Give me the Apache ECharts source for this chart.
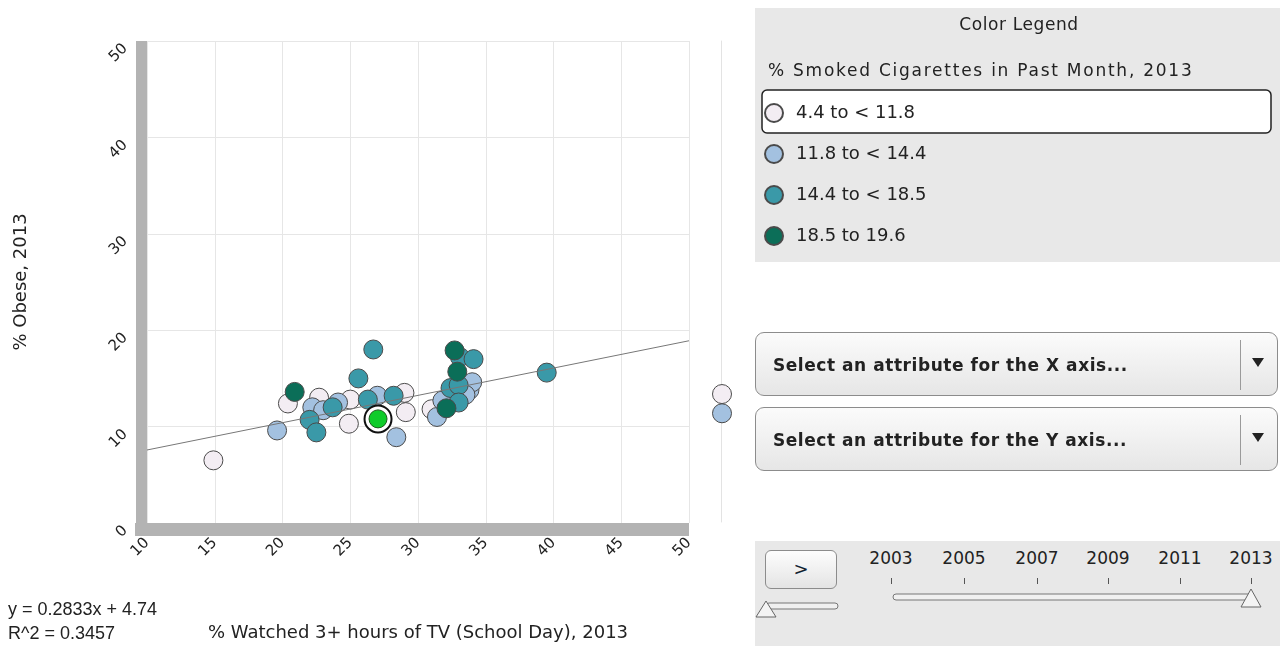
<!DOCTYPE html>
<html>
<head>
<meta charset="utf-8">
<script src="https://cdn.jsdelivr.net/npm/echarts@6/dist/echarts.min.js"></script>
<style>
  html, body { margin:0; padding:0; background:#fff; }
  #wrap { position:relative; width:1280px; height:646px; overflow:hidden; font-family:"DejaVu Sans", sans-serif; }
  #chart { position:absolute; left:0; top:0; width:1280px; height:646px; }
  .lt { position:absolute; font-size:17px; color:#222; white-space:nowrap; z-index:2; }
  .dd { position:absolute; left:755px; width:523px; height:64px; border:1px solid #8c8c8c; border-radius:9px;
        background:linear-gradient(#fbfbfb,#e6e6e6); box-sizing:border-box; }
  .dd .t { position:absolute; left:17px; top:22px; font-weight:bold; font-size:17px; color:#222; letter-spacing:0.55px; }
  .dd .sep { position:absolute; left:484px; top:7px; width:1px; height:50px; background:#9a9a9a; }
  .dd .arr { position:absolute; left:496px; top:25px; width:0; height:0; border-left:6px solid transparent; border-right:6px solid transparent; border-top:9px solid #222; }
  #slider { position:absolute; left:755px; top:541px; width:525px; height:105px; background:#e8e8e8; }
  #btn { position:absolute; left:10px; top:9px; width:72px; height:39px; border:1px solid #8c8c8c; border-radius:6px; box-sizing:border-box;
         background:linear-gradient(#fdfdfd,#e4e4e4); text-align:center; font-size:18px; line-height:36px; color:#123; }
  .yr { position:absolute; top:7px; font-size:17px; color:#222; transform:translateX(-50%); }
  .tk { position:absolute; top:37px; width:1px; height:6px; background:#555; }
</style>
</head>
<body>
<div id="wrap">
  <div id="chart"></div>
  <div class="lt" style="top:14px;text-align:center;width:528px;left:755px;letter-spacing:0.6px">Color Legend</div>
  <div class="lt" style="left:768px;top:60px;letter-spacing:1.75px">% Smoked Cigarettes in Past Month, 2013</div>
  <div class="dd" style="top:332px"><div class="t">Select an attribute for the X axis...</div><div class="sep"></div><div class="arr"></div></div>
  <div class="dd" style="top:407px"><div class="t">Select an attribute for the Y axis...</div><div class="sep"></div><div class="arr"></div></div>
  <div id="slider">
    <div id="btn">&gt;</div>
    <svg width="525" height="105" style="position:absolute;left:0;top:0">
      <rect x="11" y="62" width="72" height="6" rx="3" fill="#f0f0f0" stroke="#777" stroke-width="1"/>
      <polygon points="11,60 1,76 21,76" fill="#f4f4f4" stroke="#666" stroke-width="1"/>
      <rect x="138" y="53" width="358" height="6" rx="3" fill="#f0f0f0" stroke="#777" stroke-width="1"/>
      <polygon points="496,48 486,66 506,66" fill="#f4f4f4" stroke="#666" stroke-width="1"/>
    </svg>
  </div>
</div>
<script>
// ---- data ----
const classNames = ['4.4 to < 11.8', '11.8 to < 14.4', '14.4 to < 18.5', '18.5 to 19.6'];
const classColors = ['#f3edf3', '#a3c1e0', '#3a99a8', '#0b6e58'];

const tvClass1 = [14.9, 20.4, 22.7, 25.0, 24.9, 29.0, 29.1, 31.0];
const obeseClass1 = [6.5, 12.4, 13.0, 12.8, 10.3, 13.5, 11.5, 11.8];

const tvClass2 = [19.6, 22.2, 23.0, 24.1, 27.0, 28.4, 31.4, 31.8, 33.8, 34.0, 33.5];
const obeseClass2 = [9.6, 12.0, 11.7, 12.5, 13.2, 8.9, 11.0, 12.7, 13.8, 14.6, 13.3];

const tvClass3 = [22.0, 22.5, 23.7, 25.6, 26.7, 26.3, 28.2, 33.1, 34.1, 32.4, 33.0, 33.0, 39.5];
const obeseClass3 = [10.7, 9.4, 12.0, 15.0, 18.0, 12.8, 13.2, 17.2, 17.0, 14.0, 14.3, 12.5, 15.6];

const tvClass4 = [20.9, 32.7, 32.9, 32.1];
const obeseClass4 = [13.6, 17.9, 15.7, 11.9];

const tvSelected = [27.05];
const obeseSelected = [10.8];

// states with no TV value (drawn in the side strip)
const obeseNoX1 = [13.3];
const obeseNoX2 = [11.3];

const regSlope = 0.2833;
const regIntercept = 4.74;
const regR2 = 0.3457;
const xMin = 10, xMax = 50;

const years = [2003, 2005, 2007, 2009, 2011, 2013];

// ---- slider year labels ----
const slider = document.getElementById('slider');
const yearX = [136, 209, 282, 353, 425, 496];
years.forEach((y, i) => {
  const d = document.createElement('div'); d.className = 'yr'; d.style.left = yearX[i] + 'px'; d.textContent = y; slider.appendChild(d);
  const t = document.createElement('div'); t.className = 'tk'; t.style.left = yearX[i] + 'px'; slider.appendChild(t);
});

// ---- chart ----
const zip = (a, b) => a.map((v, i) => [v, b[i]]);
const tvArr = [tvClass1, tvClass2, tvClass3, tvClass4];
const obArr = [obeseClass1, obeseClass2, obeseClass3, obeseClass4];

const chart = echarts.init(document.getElementById('chart'));
const font = 'DejaVu Sans';

const series = [];
classNames.forEach((n, i) => {
  series.push({
    name: n, type: 'scatter', xAxisIndex: 0, yAxisIndex: 0,
    data: zip(tvArr[i], obArr[i]), symbolSize: 19,
    itemStyle: { color: classColors[i], borderColor: '#4a4a4a', borderWidth: 1, opacity: 1 },
    z: 3 + i
  });
});
series.push({
  name: 'noX1', type: 'scatter', xAxisIndex: 1, yAxisIndex: 1,
  data: obeseNoX1.map(v => [0.5, v]), symbolSize: 19,
  itemStyle: { color: classColors[0], borderColor: '#4a4a4a', borderWidth: 1, opacity: 1 }
});
series.push({
  name: 'noX2', type: 'scatter', xAxisIndex: 1, yAxisIndex: 1,
  data: obeseNoX2.map(v => [0.5, v]), symbolSize: 19,
  itemStyle: { color: classColors[1], borderColor: '#4a4a4a', borderWidth: 1, opacity: 1 }
});
series.push({
  name: 'regression', type: 'line', xAxisIndex: 0, yAxisIndex: 0,
  data: [[xMin, regSlope * xMin + regIntercept], [xMax, regSlope * xMax + regIntercept]],
  symbol: 'none', lineStyle: { color: '#777', width: 1 }, z: 8, silent: true
});
series.push({
  name: 'selRing', type: 'scatter', xAxisIndex: 0, yAxisIndex: 0,
  data: zip(tvSelected, obeseSelected), symbolSize: 27,
  itemStyle: { color: '#ffffff', borderColor: '#111', borderWidth: 2, opacity: 1 }, z: 9
});
series.push({
  name: 'selected', type: 'scatter', xAxisIndex: 0, yAxisIndex: 0,
  data: zip(tvSelected, obeseSelected), symbolSize: 18,
  itemStyle: { color: '#0fcc2a', borderColor: '#1a5a1a', borderWidth: 1, opacity: 1 }, z: 10
});

chart.setOption({
  animation: false,
  textStyle: { fontFamily: font },
  grid: [
    { left: 147, right: 591, top: 41, bottom: 123, outerBoundsMode: 'none', containLabel: false },
    { left: 721, width: 2, top: 41, bottom: 124, outerBoundsMode: 'none', containLabel: false }
  ],
  xAxis: [
    {
      gridIndex: 0, type: 'value', min: xMin, max: xMax, interval: 5, offset: 6.5,
      axisLine: { show: true, onZero: false, lineStyle: { color: '#b3b3b3', width: 13, cap: 'butt' } },
      axisTick: { show: false },
      axisLabel: { rotate: 45, fontSize: 15, color: '#222', margin: 11, fontFamily: font },
      splitLine: { show: true, lineStyle: { color: '#e6e6e6', width: 1 } },
      name: '% Watched 3+ hours of TV (School Day), 2013', nameLocation: 'middle', nameGap: 104,
      nameTextStyle: { fontSize: 18, color: '#222', fontFamily: font, verticalAlign: 'middle' }
    },
    { gridIndex: 1, type: 'value', min: 0, max: 1, show: false }
  ],
  yAxis: [
    {
      gridIndex: 0, type: 'value', min: 0, max: 50, interval: 10, offset: 6,
      axisLine: { show: true, onZero: false, lineStyle: { color: '#b3b3b3', width: 11, cap: 'butt' } },
      axisTick: { show: false },
      axisLabel: { rotate: 45, fontSize: 15, color: '#222', margin: 21, verticalAlign: 'top', fontFamily: font },
      splitLine: { show: true, lineStyle: { color: '#e6e6e6', width: 1 } },
      name: '% Obese, 2013', nameLocation: 'middle', nameRotate: 90, nameGap: 120,
      nameTextStyle: { fontSize: 18, color: '#222', fontFamily: font, verticalAlign: 'middle' }
    },
    {
      gridIndex: 1, type: 'value', min: 0, max: 50,
      axisLine: { show: true, onZero: false, lineStyle: { color: '#e3e3e3', width: 1 } },
      axisTick: { show: false }, axisLabel: { show: false }, splitLine: { show: false }
    }
  ],
  legend: {
    data: classNames, orient: 'vertical', left: 764, top: 103, padding: 0,
    itemWidth: 18, itemHeight: 18, itemGap: 21, icon: 'circle', selectedMode: false,
    textStyle: { fontSize: 18, color: '#222', fontFamily: font, padding: [0, 0, 0, 8] }
  },
  graphic: [
    { type: 'rect', shape: { x: 755, y: 8, width: 525, height: 254 }, style: { fill: '#e8e8e8' }, z: -10 },
    { type: 'rect', shape: { x: 762, y: 90, width: 509, height: 43, r: 5 }, style: { fill: '#fff', stroke: '#222', lineWidth: 1.5 }, z: -9 },
    { type: 'rect', shape: { x: 135, y: 523, width: 12, height: 13 }, style: { fill: '#b3b3b3' }, z: -1 },
    { type: 'text', x: 8, y: 610, style: { text: 'y = 0.2833x + 4.74', font: '18px "Liberation Sans"', fill: '#222', textVerticalAlign: 'middle' } },
    { type: 'text', x: 8, y: 634, style: { text: 'R^2 = ' + regR2.toFixed(4), font: '18px "Liberation Sans"', fill: '#222', textVerticalAlign: 'middle' } }
  ],
  series: series
});
</script>
</body>
</html>
